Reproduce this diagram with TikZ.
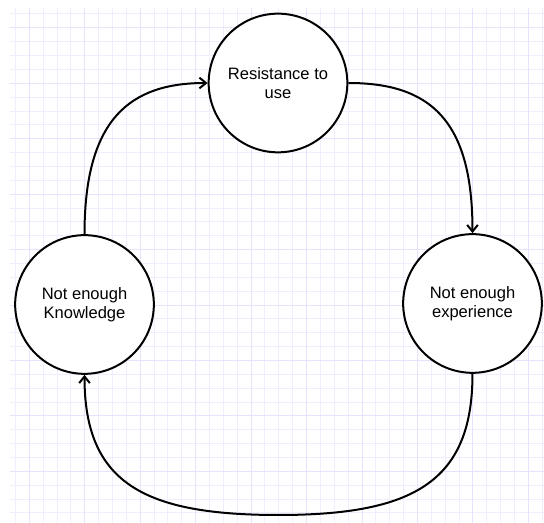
\documentclass[tikz,border=0pt]{standalone}
\usepackage{fontspec}
\setmainfont{Liberation Sans}
\usetikzlibrary{arrows.meta}
\definecolor{gridminor}{RGB}{238,238,255}
\definecolor{gridmajor}{RGB}{228,228,253}
\tikzset{
  state/.style={circle, draw=black, line width=1.5pt, fill=white,
    minimum size=104pt, inner sep=0pt, align=center,
    font=\fontsize{12.4pt}{14.25pt}\selectfont},
  flow/.style={line width=1.5pt, draw=black,
    -{Straight Barb[length=5pt,width=8pt,line width=1.5pt]}},
  gridline/.style={line width=0.75pt, draw=gridminor},
  gridbold/.style={line width=0.75pt, draw=gridmajor},
}
\begin{document}
\begin{tikzpicture}[x=0.75pt, y=-0.75pt]
  \useasboundingbox (0,0) rectangle (544,523);
  \fill[white] (0,0) rectangle (544,523);
  % background grid
  \begin{scope}
    \clip (10,8) rectangle (544,523);
    \foreach \k in {0,...,38} {
      \pgfmathsetmacro\gx{15.5+13.86*\k}
      \draw[gridline] (\gx,8) -- (\gx,523);
    }
    \foreach \k in {0,...,36} {
      \pgfmathsetmacro\gy{14+13.86*\k}
      \draw[gridline] (10,\gy) -- (544,\gy);
    }
    \foreach \k in {1,5,...,37} {
      \pgfmathsetmacro\gx{15.5+13.86*\k}
      \draw[gridbold] (\gx,8) -- (\gx,523);
    }
    \foreach \k in {1,5,...,33} {
      \pgfmathsetmacro\gy{14+13.86*\k}
      \draw[gridbold] (10,\gy) -- (544,\gy);
    }
  \end{scope}
  % states of the cycle
  \node[state] (res) at (278,83) {Resistance to\\use};
  \node[state] (kn) at (84.5,304.5) {Not enough\\Knowledge};
  \node[state] (exp) at (472.5,303.5) {Not enough\\experience};
  \coordinate (bot) at (278.5,515);
  % connectors
  \draw[flow] (kn.north) .. controls +(0,-115) and +(-78,0) .. (res.west);
  \draw[flow] (res.east) .. controls +(82,0) and +(0,-113) .. (exp.north);
  \draw[flow] (exp.south) .. controls +(0,108) and +(135,0) .. (bot)
              .. controls +(-135,0) and +(0,108) .. (kn.south);
\end{tikzpicture}
\end{document}
